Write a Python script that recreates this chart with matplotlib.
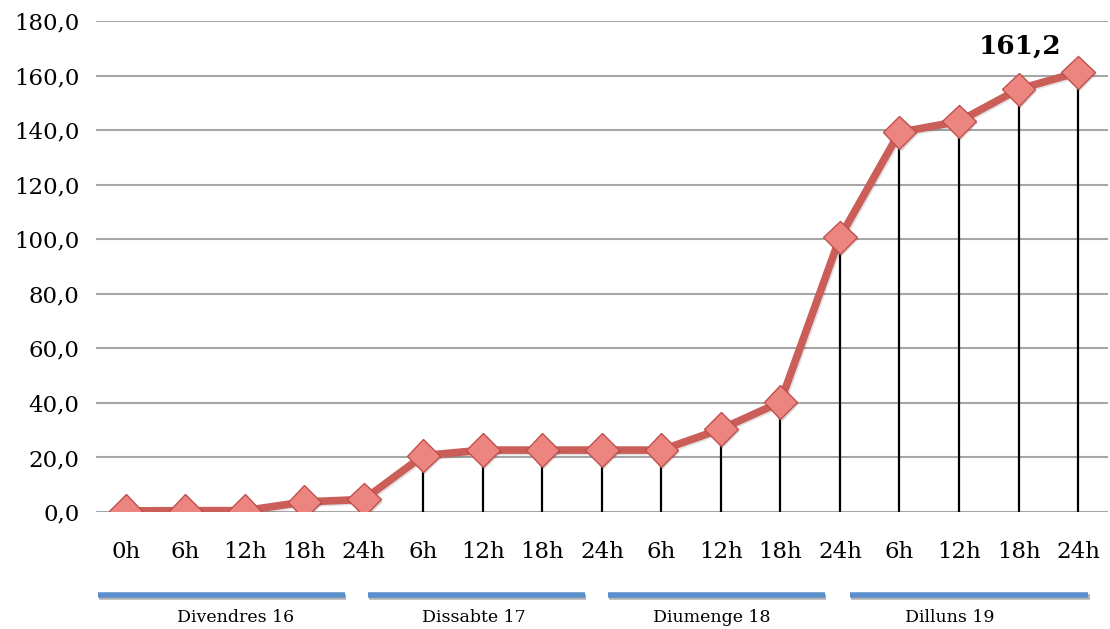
import numpy as np
import matplotlib.pyplot as plt
import matplotlib.patheffects as pe
from matplotlib.ticker import FuncFormatter, MultipleLocator
from matplotlib.transforms import blended_transform_factory

# Dades: precipitació acumulada (mm)
hores = ['0h', '6h', '12h', '18h', '24h', '6h', '12h', '18h', '24h',
         '6h', '12h', '18h', '24h', '6h', '12h', '18h', '24h']
valors = [0.4, 0.5, 0.5, 3.7, 4.6, 20.7, 22.7, 22.7, 22.7,
          22.7, 30.4, 40.3, 100.7, 139.2, 143.2, 155.0, 161.2]
dies = ['Divendres 16', 'Dissabte 17', 'Diumenge 18', 'Dilluns 19']

plt.rcParams['font.family'] = ['DejaVu Serif']

fig = plt.figure(figsize=(11.1, 6.29), dpi=100)
ax = fig.add_axes([0.0865, 0.186, 0.9115, 0.7806])

x = np.arange(len(valors))

# Línies verticals des de zero fins a cada punt
ax.vlines(x, 0, valors, colors='black', linewidth=1.6, zorder=2)

# Línia principal amb ombra
ax.plot(x, valors, color='#CB5E58', linewidth=5.5, solid_capstyle='round', zorder=3,
        path_effects=[pe.SimpleLineShadow(offset=(1, -1), alpha=0.12), pe.Normal()])
ax.plot(x, valors, linestyle='none', marker='D', markersize=17,
        markerfacecolor='#EC8580', markeredgecolor='#C0504D', markeredgewidth=1.0, zorder=4,
        path_effects=[pe.SimplePatchShadow(offset=(1.5, -1.5), alpha=0.2), pe.Normal()])

ax.set_xlim(-0.5, len(valors) - 0.5)
ax.set_ylim(0, 180)
ax.yaxis.set_major_locator(MultipleLocator(20))
ax.yaxis.set_major_formatter(FuncFormatter(lambda v, p: f'{v:.1f}'.replace('.', ',')))
ax.grid(axis='y', color='#A6A6A6', linewidth=1.5, zorder=0)
ax.set_axisbelow(True)
for s in ax.spines.values():
    s.set_visible(False)

ax.set_xticks(x)
ax.set_xticklabels(hores)
ax.tick_params(axis='both', length=0, labelsize=16.5)
ax.tick_params(axis='x', pad=21)
ax.tick_params(axis='y', pad=12)

# Valor final
ax.annotate(f'{valors[-1]:.1f}'.replace('.', ','), xy=(x[-1], valors[-1]),
            xytext=(-42, 19), textcoords='offset points', ha='center', va='center',
            fontsize=19, fontweight='bold')

# Barres i etiquetes dels dies
trans = blended_transform_factory(ax.transData, ax.transAxes)
inici = [-0.47, 4.07, 8.1, 12.17]
final = [3.68, 7.71, 11.75, 16.17]
for i, dia in enumerate(dies):
    ax.plot([inici[i], final[i]], [-0.169, -0.169], transform=trans, clip_on=False,
            color='#5B8FCB', linewidth=4, solid_capstyle='butt',
            path_effects=[pe.SimpleLineShadow(offset=(1, -1.5), alpha=0.3), pe.Normal()])
    ax.text(4 * i + 1.85, -0.214, dia, transform=trans, ha='center', va='center',
            fontsize=12.5)

fig.savefig('out.png', dpi=100)
